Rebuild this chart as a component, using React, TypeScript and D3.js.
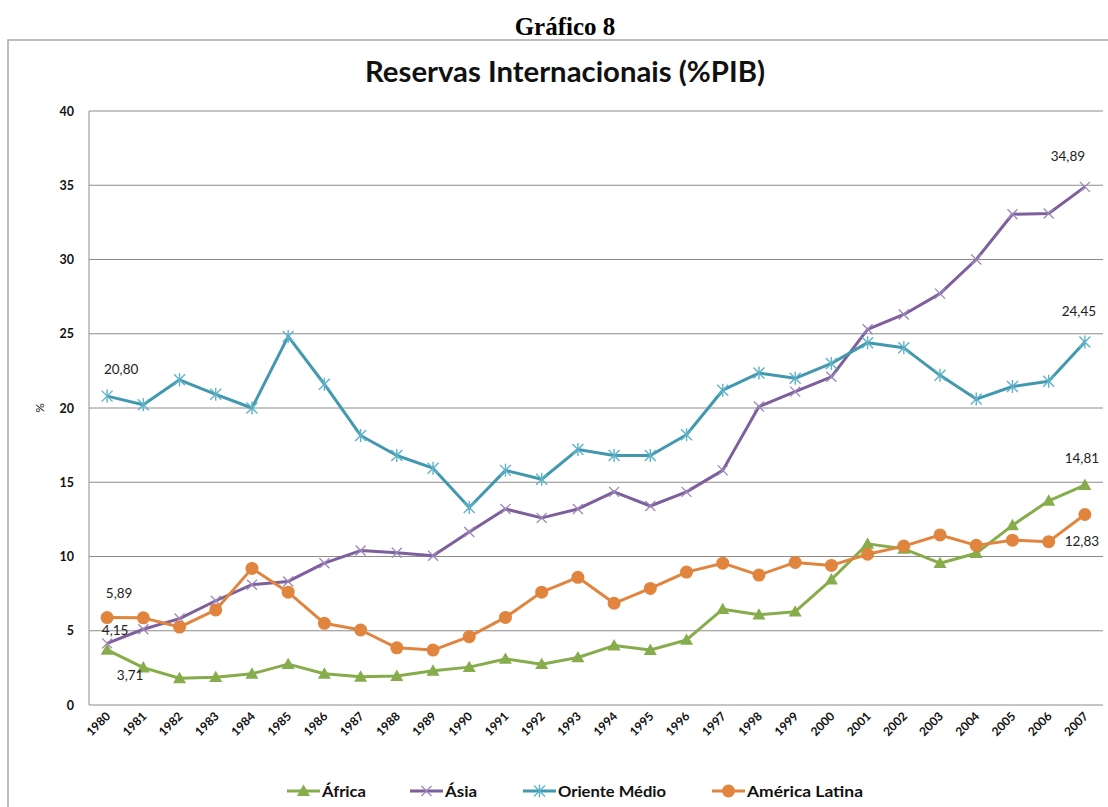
import React from "react";
import * as d3 from "d3";

const years = ["1980","1981","1982","1983","1984","1985","1986","1987","1988","1989","1990","1991","1992","1993","1994","1995","1996","1997","1998","1999","2000","2001","2002","2003","2004","2005","2006","2007"];
const africa = [3.71,2.52,1.8,1.87,2.1,2.75,2.1,1.9,1.95,2.3,2.55,3.1,2.75,3.2,4.0,3.7,4.38,6.45,6.08,6.28,8.45,10.85,10.52,9.55,10.22,12.1,13.75,14.81];
const asia = [4.15,5.1,5.82,7.02,8.1,8.32,9.55,10.4,10.25,10.05,11.65,13.2,12.6,13.2,14.35,13.4,14.35,15.8,20.1,21.1,22.1,25.3,26.3,27.7,30.0,33.05,33.1,34.89];
const oriente = [20.8,20.22,21.9,20.92,20.0,24.82,21.6,18.15,16.8,15.95,13.3,15.8,15.2,17.2,16.8,16.8,18.2,21.2,22.35,22.0,23.0,24.4,24.05,22.2,20.6,21.45,21.8,24.45];
const latina = [5.89,5.87,5.25,6.4,9.2,7.6,5.5,5.05,3.85,3.7,4.6,5.9,7.6,8.6,6.85,7.85,8.95,9.55,8.75,9.6,9.4,10.15,10.7,11.45,10.75,11.1,11.0,12.83];
const yTicks = [0,5,10,15,20,25,30,35,40];

const seriesNames = ["África","Ásia","Oriente Médio","América Latina"];
const seriesColors = ["#86AC4B","#7D5F9E","#4198AF","#E1843E"];

type Label = { s: number; i: number; text: string; dx: number; dy: number };
const labels: Label[] = [
  { s: 2, i: 0, text: "20,80", dx: 14, dy: -22 },
  { s: 3, i: 0, text: "5,89", dx: 12, dy: -20 },
  { s: 1, i: 0, text: "4,15", dx: 8, dy: -8 },
  { s: 0, i: 0, text: "3,71", dx: 23, dy: 30 },
  { s: 1, i: 27, text: "34,89", dx: -17, dy: -26 },
  { s: 2, i: 27, text: "24,45", dx: -6, dy: -26 },
  { s: 0, i: 27, text: "14,81", dx: -3, dy: -22 },
  { s: 3, i: 27, text: "12,83", dx: -3, dy: 32 },
];

const W = 1108, H = 807;
const plotL = 89, plotR = 1103, plotT = 111, plotB = 705;

function Marker({ kind, x, y, color }: { kind: number; x: number; y: number; color: string }) {
  if (kind === 0) {
    const s = 6.5;
    return <path d={`M${x},${y - s}L${x + s},${y + s * 0.75}L${x - s},${y + s * 0.75}Z`} fill={color} />;
  }
  if (kind === 1) {
    const s = 5;
    return <path d={`M${x - s},${y - s}L${x + s},${y + s}M${x - s},${y + s}L${x + s},${y - s}`} stroke="#9C87BA" strokeWidth={1.3} fill="none" />;
  }
  if (kind === 2) {
    const s = 5.5;
    return <path d={`M${x - s},${y - s}L${x + s},${y + s}M${x - s},${y + s}L${x + s},${y - s}M${x},${y - s - 1}L${x},${y + s + 1}`} stroke="#5FB3C9" strokeWidth={1.4} fill="none" />;
  }
  return <circle cx={x} cy={y} r={6.5} fill={color} />;
}

export default function App() {
  const x = d3.scaleBand<string>().domain(years).range([plotL, plotR]);
  const y = d3.scaleLinear().domain([0, 40]).range([plotB, plotT]);
  const cx = (yr: string) => (x(yr) as number) + x.bandwidth() / 2;
  const data = [africa, asia, oriente, latina];
  const line = d3.line<number>().x((_, i) => cx(years[i])).y((d) => y(d));
  const legendX = [287, 410, 523, 712];
  const legendW = [44, 32, 108, 116];

  return (
    <svg width={W} height={H} style={{ position: "absolute", left: 0, top: 0, background: "#fff" }}>
      <text x={565} y={35} textAnchor="middle" fontFamily="Liberation Serif" fontWeight="bold" fontSize={25}>Gráfico 8</text>
      <path d={`M8,${H}V40H${W}`} fill="none" stroke="#A6A6A6" strokeWidth={1.5} />
      <text x={565} y={82} textAnchor="middle" fontFamily="Lato, 'Open Sans', sans-serif" fontWeight="bold" fontSize={28} textLength={400} lengthAdjust="spacingAndGlyphs" fill="#111">Reservas Internacionais (%PIB)</text>

      {yTicks.map((t) => (
        <g key={t}>
          <line x1={plotL} x2={plotR} y1={y(t)} y2={y(t)} stroke="#8C8C8C" strokeWidth={1} />
          <text x={74} y={y(t) + 4.5} textAnchor="end" fontFamily="Lato, 'Open Sans', sans-serif" fontWeight="bold" fontSize={12.5} fill="#111">{t}</text>
        </g>
      ))}
      <line x1={plotL} x2={plotL} y1={plotT} y2={plotB} stroke="#8C8C8C" strokeWidth={1} />
      <text transform={`translate(44,${y(20)}) rotate(-90)`} textAnchor="middle" fontFamily="Lato, sans-serif" fontSize={12} fill="#222">%</text>

      {years.map((yr) => (
        <text key={yr} transform={`translate(${cx(yr) + 4},${plotB + 12}) rotate(-45)`} textAnchor="end" fontFamily="Lato, 'Open Sans', sans-serif" fontWeight="bold" fontSize={12} fill="#111">{yr}</text>
      ))}

      {data.map((vals, s) => (
        <g key={s}>
          <path d={line(vals) || ""} fill="none" stroke={seriesColors[s]} strokeWidth={3} strokeLinejoin="round" />
          {vals.map((v, i) => (
            <Marker key={i} kind={s} x={cx(years[i])} y={y(v)} color={seriesColors[s]} />
          ))}
        </g>
      ))}

      {labels.map((l, k) => (
        <text key={k} x={cx(years[l.i]) + l.dx} y={y(data[l.s][l.i]) + l.dy} textAnchor="middle" fontFamily="Lato, 'Open Sans', sans-serif" fontSize={13.5} fill="#222">{l.text}</text>
      ))}

      {seriesNames.map((n, s) => (
        <g key={n}>
          <line x1={legendX[s]} x2={legendX[s] + 33} y1={791} y2={791} stroke={seriesColors[s]} strokeWidth={3} />
          <Marker kind={s} x={legendX[s] + 16.5} y={791} color={seriesColors[s]} />
          <text x={legendX[s] + 35} y={797} fontFamily="Lato, 'Open Sans', sans-serif" fontWeight="bold" fontSize={16} textLength={legendW[s]} lengthAdjust="spacingAndGlyphs" fill="#111">{n}</text>
        </g>
      ))}
    </svg>
  );
}
